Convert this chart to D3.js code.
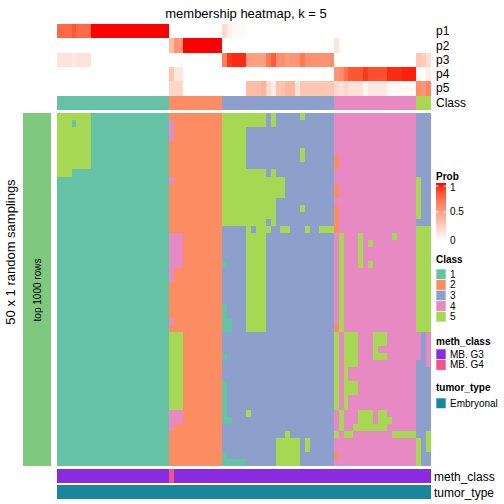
<!DOCTYPE html>
<html><head><meta charset="utf-8">
<script src="https://cdn.jsdelivr.net/npm/d3@7"></script>
<style>body{margin:0;background:#fff} svg{display:block} text{font-family:"Liberation Sans",Arial,Helvetica,sans-serif;fill:#000}</style>
</head><body><svg id="c" width="504" height="504"></svg>
<script>
// ---------------- data ----------------
const classes = ["1","2","3","4","5"];
const classColors = ["#66C2A5","#FC8D62","#8DA0CB","#E78AC3","#A6D854"];
const sampleClass = [
 1,1,1,1,1,1,1,1,1,1,1,1,1,1,1,1,1,1,1,1,1,1,1,
 2,2,2,2,2,2,2,2,2,2,2,
 3,3,3,3,3,3,3,3,3,3,3,3,3,3,3,3,3,3,3,3,3,3,3,
 4,4,4,4,4,4,4,4,4,4,4,4,4,4,4,4,4,
 5,5,5];
const p1 = [0.75,0.75,0.75,0.82,0.75,0.75,0.75,
 1,1,1,1,1,1,1,1,1,1,1,1,1,1,1,1,
 0,0,0,0,0,0,0,0,0,0,0,
 0.2,0.08,0.03,0.03,0.03,0,0,0,0,0,0,0,0,0,0,0,0,0,0,0,0,0,0,
 0,0,0,0,0,0,0,0,0,0,0,0,0,0,0,0,0,
 0,0,0];
const p2 = [0,0,0,0,0,0,0,0,0,0,0,0,0,0,0,0,0,0,0,0,0,0,0,
 0.35,0.55,0.55,1,1,1,1,1,1,1,1,
 0,0,0,0,0,0,0,0,0,0,0,0,0,0,0,0,0,0,0,0,0,0,0,
 0.15,0,0,0,0,0,0,0,0,0,0,0,0,0,0,0,0,
 0,0,0];
const p3 = [0.15,0.15,0.15,0.12,0.15,0.15,0.15,
 0,0,0,0,0,0,0,0,0,0,0,0,0,0,0,0,
 0,0,0,0,0,0,0,0,0,0,0,
 0.65,0.92,0.95,0.95,0.95,0.5,0.5,0.5,0.5,0.68,0.8,0.58,0.58,0.52,0.55,0.55,0.68,0.57,0.57,0.57,0.57,0.57,0.57,
 0,0,0,0,0,0,0,0,0,0,0,0,0,0,0,0,0,
 0.3,0.27,0.18];
const p4 = [0,0,0,0,0,0,0,0,0,0,0,0,0,0,0,0,0,0,0,0,0,0,0,
 0.3,0.12,0.12,0,0,0,0,0,0,0,0,
 0,0,0,0,0,0,0,0,0,0,0,0,0,0,0,0,0,0,0,0,0,0,0,
 0.55,0.6,0.72,0.82,0.82,0.82,0.92,0.85,0.85,0.85,0.85,0.95,0.95,0.95,0.97,0.97,0.97,
 0.03,0,0.1];
const p5 = [0,0,0,0,0,0,0,0,0,0,0,0,0,0,0,0,0,0,0,0,0,0,0,
 0.22,0.22,0.22,0,0,0,0,0,0,0,0,
 0,0,0,0,0,0.35,0.35,0.35,0.4,0.2,0.1,0.32,0.32,0.38,0.38,0.15,0.3,0.3,0.3,0.3,0.3,0.3,0.3,
 0.2,0.15,0.22,0.15,0.15,0.15,0.05,0.12,0.12,0.12,0.12,0.04,0.03,0.03,0.03,0.03,0.03,
 0.6,0.55,0.62];
const probRows = ["p1","p2","p3","p4","p5"];
const probValues = [p1,p2,p3,p4,p5];

// class of each sampling row, column by column: the dominant value per column ...
const cellBase = [
 1,1,1,1,1,1,1,1,1,1,1,1,1,1,1,1,1,1,1,1,1,1,1,
 2,2,2,2,2,2,2,2,2,2,2,
 3,3,3,3,3,3,3,3,3,3,3,3,3,3,3,3,3,3,3,3,3,3,3,
 4,4,4,4,4,4,4,4,4,4,4,4,4,4,4,4,4,
 3,3,3];
// ... and the blocks that differ: [class, firstRow, lastRow, firstCol, lastCol]
const cellBlocks = [
 [5,0,8,0,2],[5,0,7,3,6],[1,1,1,3,3],
 [4,1,3,23,23],[4,9,9,23,23],[4,17,21,23,25],[4,22,23,23,23],[4,29,29,23,23],
 [5,31,41,23,25],[4,42,43,23,25],[4,44,44,23,23],
 [5,0,15,34,38],[5,0,1,39,42],[5,0,1,44,44],[5,0,0,50,50],[5,5,6,50,50],
 [5,8,8,39,42],[5,8,8,44,44],[5,9,11,39,46],[5,12,15,39,44],[3,15,15,43,43],[5,13,13,50,50],
 [5,16,16,39,39],[5,16,16,41,43],[5,16,16,46,47],[5,16,16,51,51],[5,16,16,54,56],
 [5,17,30,39,42],[1,21,21,34,34],[1,27,28,34,34],[1,29,30,34,35],[1,34,34,34,34],
 [1,38,42,34,34],[1,43,43,34,35],[1,48,48,34,34],[1,49,49,34,38],
 [5,42,42,39,39],[5,45,45,47,47],[5,46,49,45,49],[5,46,47,51,51],
 [2,6,7,57,57],[2,10,11,57,57],[2,13,16,57,57],[5,17,30,58,58],[5,17,21,62,62],
 [5,18,18,64,64],[5,21,21,64,64],[5,17,17,69,69],
 [2,30,30,57,57],[5,31,41,57,57],[5,31,35,59,61],[5,36,37,59,59],[5,38,39,59,61],
 [5,40,41,59,59],[5,31,32,65,67],[5,33,33,65,65],[5,34,34,65,67],
 [5,42,44,58,58],[5,42,43,62,64],[5,42,43,66,67],[5,43,43,68,68],[5,44,44,61,67],
 [5,45,45,57,57],[5,45,45,59,60],[5,45,45,69,73],[2,48,48,57,57],
 [5,9,14,74,74],[5,16,30,74,76],[4,31,34,74,74],[4,31,35,76,76],
 [5,45,45,76,76],[5,46,47,74,74],[5,46,47,76,76],[5,48,49,74,74]
];
const nRows = 50;
const methClass = sampleClass.map((c,i)=> i===23 ? "MB. G4" : "MB. G3");
const tumorType = sampleClass.map(()=> "Embryonal");
const methLevels = ["MB. G3","MB. G4"], methColors = ["#8A2BE2","#F0548A"];
const tumorLevels = ["Embryonal"], tumorColors = ["#1A869B"];

// ---------------- drawing ----------------
const svg = d3.select("#c");
const samples = sampleClass.map((c,i)=>"s"+i);
const rowIds = d3.range(nRows).map(r=>"r"+r);

const x = d3.scaleBand().domain(samples).range([57,431]);
const y = d3.scaleBand().domain(rowIds).range([113,466]);
const yp = d3.scaleBand().domain(probRows).range([24,95.3]);
const classColor = d3.scaleOrdinal().domain([1,2,3,4,5]).range(classColors);
const probColor = d3.scaleLinear().domain([0,1]).range(["#FFFFFF","#FF0000"]).interpolate(d3.interpolateLab);
const methColor = d3.scaleOrdinal().domain(methLevels).range(methColors);
const tumorColor = d3.scaleOrdinal().domain(tumorLevels).range(tumorColors);

svg.append("text").attr("x",246).attr("y",13).attr("text-anchor","middle")
  .attr("dy","0.35em").style("font-size","13px").text("membership heatmap, k = 5");

// prob rows
const pg = svg.append("g").attr("shape-rendering","crispEdges");
probRows.forEach((p,k)=>{
  pg.selectAll(null).data(probValues[k]).join("rect")
    .attr("x",(d,i)=>x(samples[i])).attr("width",x.bandwidth()+0.3)
    .attr("y",yp(p)).attr("height",yp.bandwidth()+0.3)
    .attr("fill",d=>probColor(d));
  svg.append("text").attr("x",436).attr("y",yp(p)+yp.bandwidth()/2).attr("dy","0.35em")
    .style("font-size","12px").text(p);
});
// class annotation
pg.selectAll(null).data(sampleClass).join("rect")
  .attr("x",(d,i)=>x(samples[i])).attr("width",x.bandwidth()+0.3)
  .attr("y",96).attr("height",14).attr("fill",d=>classColor(d));
svg.append("text").attr("x",436).attr("y",103).attr("dy","0.35em").style("font-size","12px").text("Class");

// main cells
const grid = rowIds.map(()=>cellBase.slice());
cellBlocks.forEach(([c,r0,r1,c0,c1])=>{
  for(let r=r0;r<=r1;r++) for(let j=c0;j<=c1;j++) grid[r][j]=c;
});
const cells = [];
grid.forEach((row,r)=>row.forEach((v,j)=>cells.push({r,j,v})));
svg.append("g").attr("shape-rendering","crispEdges").selectAll("rect").data(cells).join("rect")
  .attr("x",d=>x(samples[d.j])).attr("width",x.bandwidth()+0.3)
  .attr("y",d=>y(rowIds[d.r])).attr("height",y.bandwidth()+0.3)
  .attr("fill",d=>classColor(d.v));

// left bar and titles
svg.append("rect").attr("x",23).attr("y",y.range()[0]).attr("width",28)
  .attr("height",y.range()[1]-y.range()[0]).attr("fill","#7FC97F");
svg.append("text").attr("transform","translate(37,290) rotate(-90)").attr("text-anchor","middle")
  .attr("dy","0.35em").style("font-size","10px").text("top 1000 rows");
svg.append("text").attr("transform","translate(10,252) rotate(-90)").attr("text-anchor","middle")
  .attr("dy","0.35em").style("font-size","13px").text("50 x 1 random samplings");

// bottom annotations
const bg = svg.append("g").attr("shape-rendering","crispEdges");
bg.selectAll(null).data(methClass).join("rect")
  .attr("x",(d,i)=>x(samples[i])).attr("width",x.bandwidth()+0.3)
  .attr("y",469).attr("height",14).attr("fill",d=>methColor(d));
bg.selectAll(null).data(tumorType).join("rect")
  .attr("x",(d,i)=>x(samples[i])).attr("width",x.bandwidth()+0.3)
  .attr("y",484.5).attr("height",14.5).attr("fill",d=>tumorColor(d));
svg.append("text").attr("x",434).attr("y",476.5).attr("dy","0.35em").style("font-size","12px").text("meth_class");
svg.append("text").attr("x",434).attr("y",492.5).attr("dy","0.35em").style("font-size","12px").text("tumor_type");

// legends
const lx = 436;
function title(t,yy){svg.append("text").attr("x",lx).attr("y",yy).attr("dy","0.35em")
  .style("font-size","10px").style("font-weight","bold").text(t);}
title("Prob",176);
const defs = svg.append("defs");
const grad = defs.append("linearGradient").attr("id","pg").attr("x1",0).attr("y1",1).attr("x2",0).attr("y2",0);
d3.range(0,1.01,0.1).forEach(t=>grad.append("stop").attr("offset",t).attr("stop-color",probColor(t)));
const py = d3.scaleLinear().domain([0,1]).range([240.5,183]);
svg.append("rect").attr("x",lx).attr("y",py(1)).attr("width",10).attr("height",py(0)-py(1)).attr("fill","url(#pg)");
[0,0.5,1].forEach(v=>{
  svg.append("text").attr("x",lx+14).attr("y",py(v)+ (v===1?4:v===0?0:0)).attr("dy","0.35em").style("font-size","10px").text(v);
  if(v>0){
    svg.append("line").attr("x1",lx).attr("x2",lx+2.5).attr("y1",py(v)+(v===1?3:0)).attr("y2",py(v)+(v===1?3:0)).attr("stroke","#fff");
    svg.append("line").attr("x1",lx+7.5).attr("x2",lx+10).attr("y1",py(v)+(v===1?3:0)).attr("y2",py(v)+(v===1?3:0)).attr("stroke","#fff");
  }
});
function boxLegend(t,ty,levels,colors,by){
  title(t,ty);
  levels.forEach((l,i)=>{
    svg.append("rect").attr("x",lx).attr("y",by+i*10.6).attr("width",10).attr("height",10.6)
      .attr("fill",colors[i]).attr("stroke","#fff").attr("stroke-width",0.6);
    svg.append("text").attr("x",lx+14).attr("y",by+i*10.6+5.3).attr("dy","0.35em").style("font-size","10px").text(l);
  });
}
boxLegend("Class",259,classes,classColors,269);
boxLegend("meth_class",341,methLevels,methColors,349);
boxLegend("tumor_type",387,tumorLevels,tumorColors,398);
</script></body></html>
